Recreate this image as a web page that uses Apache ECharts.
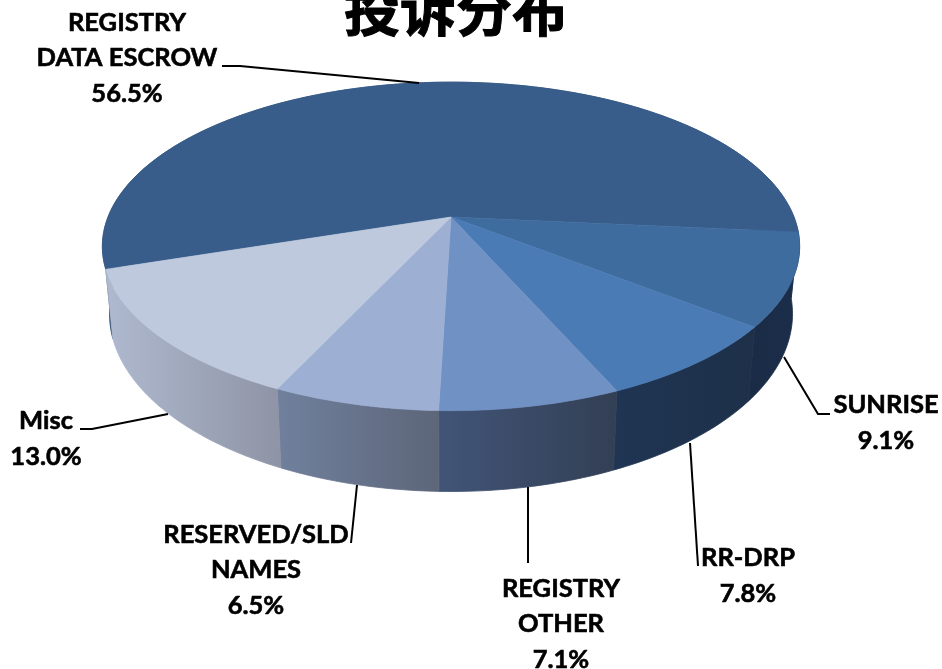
<!DOCTYPE html>
<html>
<head>
<meta charset="utf-8">
<title>投诉分布</title>
<style>
  html, body { margin: 0; padding: 0; background: #fff; }
  #chart-container { width: 942px; height: 669px; }
</style>
<script src="https://cdn.jsdelivr.net/npm/echarts@6/dist/echarts.min.js"></script>
</head>
<body>
<div id="chart-container"></div>
<script>
// 数据
var titleText = '投诉分布';
var categories = ['REGISTRY\nDATA ESCROW', 'SUNRISE', 'RR-DRP', 'REGISTRY\nOTHER', 'RESERVED/SLD\nNAMES', 'Misc'];
var shares = [56.5, 9.1, 7.8, 7.1, 6.5, 13.0];

// 颜色
var topColors = ['#385d8a', '#3f6c9f', '#4a7bb5', '#7091c4', '#9db0d3', '#bec9de'];
var wallColors = [
  ['#2f5079', '#2f5079'],
  ['#1a2b45', '#1b2e4a'],
  ['#1f3553', '#1e3049'],
  ['#425578', '#323f54'],
  ['#70809d', '#5d6679'],
  ['#afb9cf', '#8e94a5']
];

// 标签中心位置, 引导线
var labelPos = [[127, 58], [886, 423], [748, 576], [561, 624], [256, 570], [46, 439]];
var leaderLines = [
  [[222, 66], [240, 66], [419, 83]],
  [[784, 357], [818, 414], [830, 414]],
  [[690, 443], [698, 566]],
  [[528, 487], [528, 563]],
  [[357, 485], [351, 543]],
  [[80, 429], [92, 429], [168, 414]]
];

// 透视圆盘: 顶面和底面
var persp = 0.179;
var topDisc = { cx: 451, cy: 217, a: 343, b: 159 };
var baseDisc = { cx: 451, cy: 282, a: 336, b: 172 };
var startAngle = 198.1; // 第一块的起始角, 顺时针

function project(disc, deg) {
  var u = Math.cos(deg * Math.PI / 180);
  var v = Math.sin(deg * Math.PI / 180);
  var d = 1 + persp * v;
  return [disc.cx + disc.a * u / d, disc.cy - disc.b * v / d];
}

function arc(disc, from, to) {
  var pts = [];
  var n = Math.max(2, Math.ceil(Math.abs(from - to)));
  for (var i = 0; i <= n; i++) {
    pts.push(project(disc, from + (to - from) * i / n));
  }
  return pts;
}

var total = shares.reduce(function (s, v) { return s + v; }, 0);

function sliceAngles(idx) {
  var before = 0;
  for (var i = 0; i < idx; i++) before += shares[i];
  var from = startAngle - before / total * 360;
  return [from, from - shares[idx] / total * 360];
}

function renderWall(params, api) {
  var i = params.dataIndex;
  var ang = sliceAngles(i);
  var pts = arc(topDisc, ang[0], ang[1]).concat(arc(baseDisc, ang[1], ang[0]));
  var fill = new echarts.graphic.LinearGradient(0, 0, 1, 0, [
    { offset: 0, color: wallColors[i][0] },
    { offset: 1, color: wallColors[i][1] }
  ]);
  return {
    type: 'polygon',
    shape: { points: pts },
    style: { fill: fill, stroke: fill, lineWidth: 0.8 }
  };
}

function renderTop(params, api) {
  var i = params.dataIndex;
  var ang = sliceAngles(i);
  var pts = [[topDisc.cx, topDisc.cy]].concat(arc(topDisc, ang[0], ang[1]));
  return {
    type: 'polygon',
    shape: { points: pts },
    style: { fill: topColors[i], stroke: topColors[i], lineWidth: 0.6 }
  };
}

function renderLabel(params, api) {
  var i = params.dataIndex;
  return {
    type: 'group',
    children: [
      {
        type: 'polyline',
        shape: { points: leaderLines[i] },
        style: { stroke: '#000', lineWidth: 2, fill: null }
      },
      {
        type: 'text',
        style: {
          x: labelPos[i][0],
          y: labelPos[i][1],
          text: categories[i] + '\n' + api.value(0).toFixed(1) + '%',
          fill: '#000',
          stroke: '#000',
          lineWidth: 0.6,
          fontFamily: 'Lato',
          fontWeight: 'bold',
          fontSize: 25.5,
          lineHeight: 35.5,
          align: 'center',
          verticalAlign: 'middle'
        }
      }
    ]
  };
}

var dom = document.getElementById('chart-container');
var myChart = echarts.init(dom, null, { renderer: 'canvas' });

var option = {
  animation: false,
  backgroundColor: '#fff',
  title: {
    text: titleText,
    left: 451,
    top: -23,
    textAlign: 'center',
    textStyle: {
      fontFamily: 'Noto Sans CJK SC',
      fontWeight: 'bold',
      fontSize: 56,
      color: '#000',
      textBorderColor: '#000',
      textBorderWidth: 1
    }
  },
  series: [
    { type: 'custom', coordinateSystem: 'none', silent: true, renderItem: renderWall, data: shares, z: 1 },
    { type: 'custom', coordinateSystem: 'none', silent: true, renderItem: renderTop, data: shares, z: 2 },
    { type: 'custom', coordinateSystem: 'none', silent: true, renderItem: renderLabel, data: shares, z: 3 }
  ]
};

myChart.setOption(option);
window.addEventListener('resize', myChart.resize);
</script>
</body>
</html>
